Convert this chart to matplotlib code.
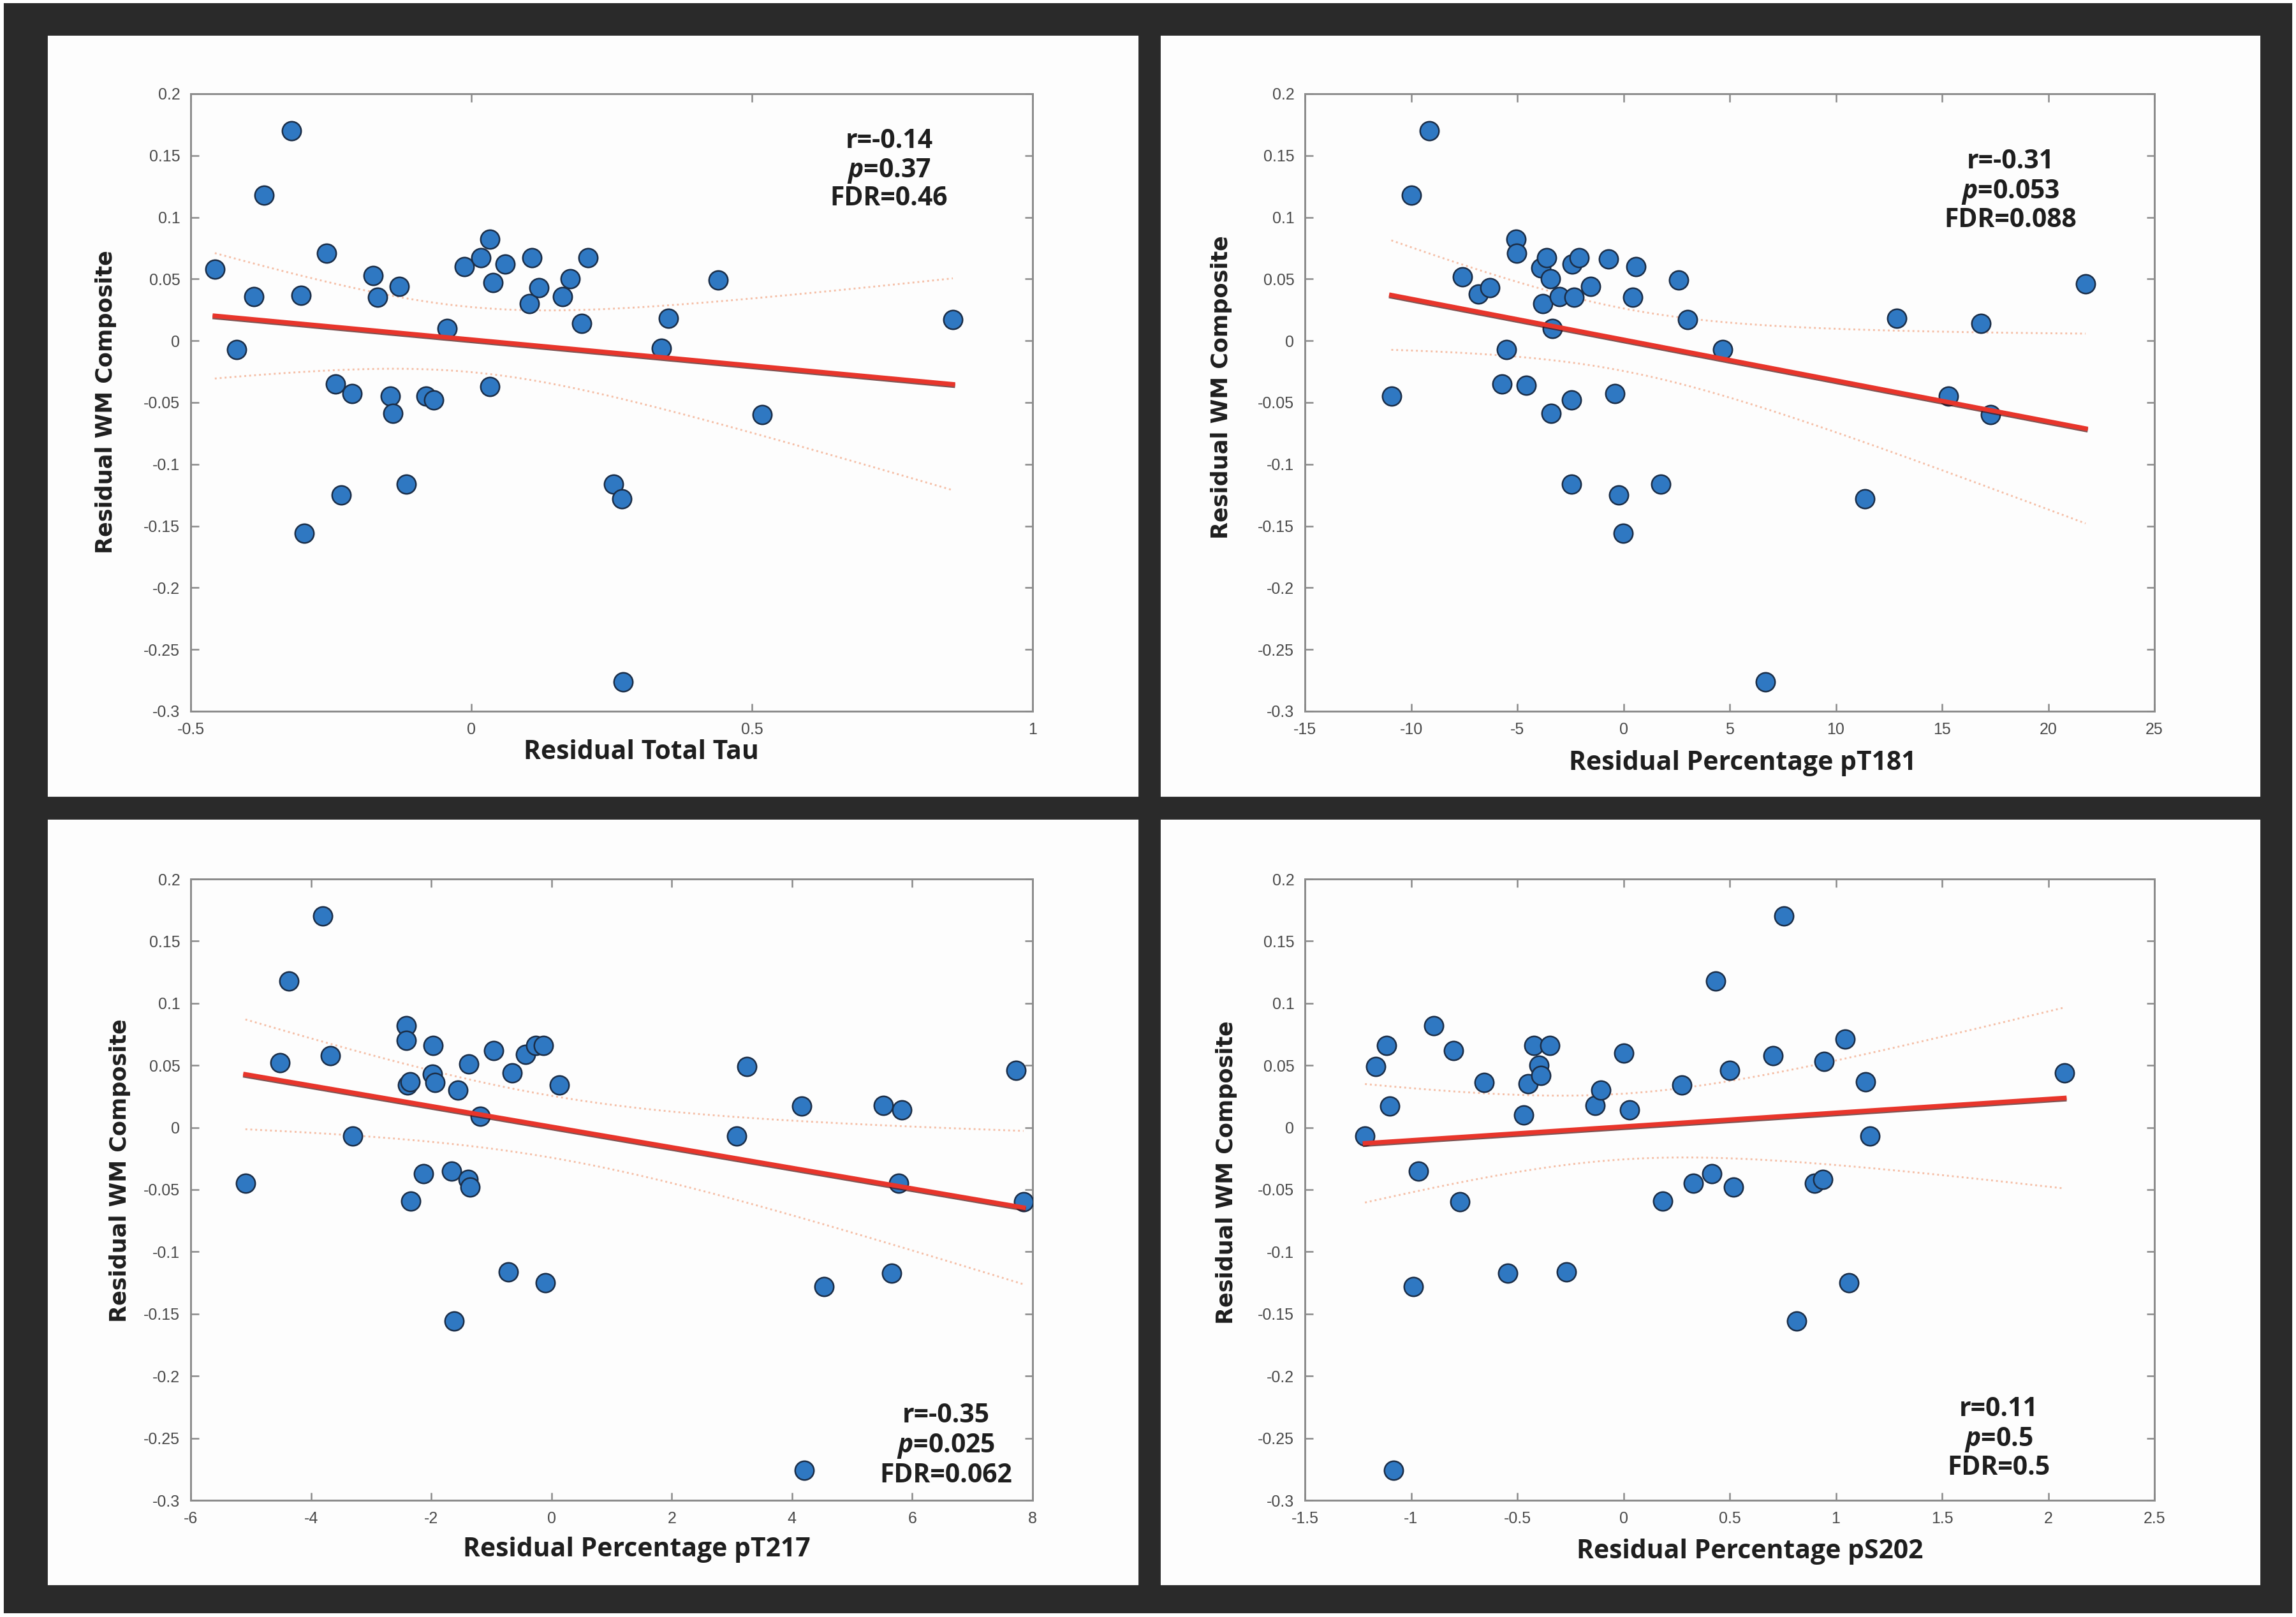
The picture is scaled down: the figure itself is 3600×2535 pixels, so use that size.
import matplotlib.pyplot as plt
import matplotlib.patheffects as pe
import numpy as np
from matplotlib.patches import Rectangle

plt.rcParams['mathtext.fontset'] = 'custom'
plt.rcParams['mathtext.it'] = 'Open Sans:italic:bold'

# residual values (y = residual WM composite)
tau_x = [-0.457, -0.321, -0.369, -0.418, -0.388, -0.303, -0.258, -0.242, -0.213, -0.232,
         -0.298, -0.175, -0.167, -0.128, -0.144, -0.140, -0.116, -0.081, -0.067, -0.043,
         -0.013, 0.017, 0.033, 0.039, 0.033, 0.060, 0.108, 0.103, 0.120, 0.163,
         0.176, 0.208, 0.197, 0.253, 0.268, 0.270, 0.339, 0.351, 0.440, 0.518, 0.858]
tau_y = [0.058, 0.170, 0.118, -0.007, 0.036, 0.037, 0.071, -0.035, -0.043, -0.125,
         -0.156, 0.053, 0.035, 0.044, -0.045, -0.059, -0.116, -0.045, -0.048, 0.010,
         0.060, 0.067, 0.082, 0.047, -0.037, 0.062, 0.067, 0.030, 0.043, 0.036,
         0.050, 0.067, 0.014, -0.116, -0.128, -0.276, -0.006, 0.018, 0.049, -0.060, 0.017]

pt181_x = [-9.14, -9.97, -10.93, -7.59, -6.83, -6.28, -5.52, -5.72, -5.07, -5.03,
           -4.59, -3.90, -3.62, -3.45, -3.79, -3.34, -3.41, -3.03, -2.41, -2.10,
           -2.34, -2.45, -2.45, -1.55, -0.72, -0.41, -0.24, -0.03, 0.59, 0.45,
           1.76, 2.59, 3.03, 4.66, 6.69, 11.38, 12.86, 15.31, 16.83, 17.28, 21.76]
pt181_y = [0.170, 0.118, -0.045, 0.052, 0.038, 0.043, -0.007, -0.035, 0.082, 0.071,
           -0.036, 0.059, 0.067, 0.050, 0.030, 0.010, -0.059, 0.036, 0.062, 0.067,
           0.035, -0.048, -0.116, 0.044, 0.066, -0.043, -0.125, -0.156, 0.060, 0.035,
           -0.116, 0.049, 0.017, -0.007, -0.276, -0.128, 0.018, -0.045, 0.014, -0.060, 0.046]

pt217_x = [-3.80, -4.37, -5.09, -4.52, -3.68, -3.31, -2.41, -2.41, -2.39, -2.35,
           -2.34, -2.13, -1.97, -1.98, -1.94, -1.66, -1.62, -1.56, -1.39, -1.35,
           -1.38, -1.19, -0.96, -0.72, -0.65, -0.43, -0.26, -0.13, -0.10, 0.13,
           3.08, 3.25, 4.16, 4.20, 4.53, 5.52, 5.66, 5.83, 5.77, 7.72, 7.85]
pt217_y = [0.170, 0.118, -0.045, 0.052, 0.058, -0.007, 0.082, 0.070, 0.034, 0.037,
           -0.059, -0.037, 0.066, 0.043, 0.036, -0.035, -0.156, 0.030, -0.042, -0.048,
           0.051, 0.009, 0.062, -0.116, 0.044, 0.059, 0.066, 0.066, -0.125, 0.034,
           -0.007, 0.049, 0.017, -0.276, -0.128, 0.018, -0.117, 0.014, -0.045, 0.046, -0.060]

ps202_x = [0.755, 0.434, -1.083, -1.217, -1.166, -1.117, -1.100, -0.966, -0.990, -0.893,
           -0.800, -0.769, -0.655, -0.545, -0.469, -0.448, -0.421, -0.397, -0.390, -0.348,
           -0.269, -0.134, -0.107, 0.000, 0.028, 0.186, 0.276, 0.328, 0.417, 0.500,
           0.517, 0.703, 0.814, 0.900, 0.938, 0.945, 1.045, 1.062, 1.141, 1.162, 2.076]
ps202_y = [0.170, 0.118, -0.276, -0.007, 0.049, 0.066, 0.017, -0.035, -0.128, 0.082,
           0.062, -0.060, 0.036, -0.117, 0.010, 0.035, 0.066, 0.050, 0.042, 0.066,
           -0.116, 0.018, 0.030, 0.060, 0.014, -0.059, 0.034, -0.045, -0.037, 0.046,
           -0.048, 0.058, -0.156, -0.045, -0.042, 0.053, 0.071, -0.125, 0.037, -0.007, 0.044]

x_labels = ['Residual Total Tau', 'Residual Percentage pT181',
            'Residual Percentage pT217', 'Residual Percentage pS202']
x_ticks = [[-0.5, 0, 0.5, 1], [-15, -10, -5, 0, 5, 10, 15, 20, 25],
           [-6, -4, -2, 0, 2, 4, 6, 8], [-1.5, -1, -0.5, 0, 0.5, 1, 1.5, 2, 2.5]]
y_ticks = [-0.3, -0.25, -0.2, -0.15, -0.1, -0.05, 0, 0.05, 0.1, 0.15, 0.2]
r_text = ['r=-0.14', 'r=-0.31', 'r=-0.35', 'r=0.11']
p_text = ['0.37', '0.053', '0.025', '0.5']
fdr_text = ['FDR=0.46', 'FDR=0.088', 'FDR=0.062', 'FDR=0.5']

# layout in pixels of the 3600x2535 image
W, H = 3600, 2535
panel_px = [(77, 58, 1783, 1247), (1822, 58, 3542, 1247),
            (77, 1287, 1783, 2483), (1822, 1287, 3542, 2483)]
axes_px = [(299, 147, 1619, 1115), (2046, 147, 3378, 1115),
           (299, 1378, 1619, 2352), (2046, 1378, 3378, 2352)]
xlabel_pos = [(0.535, -0.067), (0.515, -0.084), (0.530, -0.080), (0.524, -0.083)]
ylabel_pos = [(-0.101, 0.501), (-0.098, 0.525), (-0.084, 0.531), (-0.092, 0.528)]
stats_px = [(1394, 216, 262, 306), (3152, 249, 295, 340),
            (1483, 2215, 2261, 2308), (3134, 2204, 2251, 2297)]

T95 = 2.0227  # t(0.975, df=39)


def fig_rect(x0, y0, x1, y1):
    return [x0 / W, 1 - y1 / H, (x1 - x0) / W, (y1 - y0) / H]


def fmt(v):
    return f'{round(v, 2) + 0:g}'


fig = plt.figure(figsize=(12, 8.45), dpi=300, facecolor='white')
fig.add_artist(Rectangle((8 / W, 1 - 2527 / H), 3584 / W, 2520 / H,
                         transform=fig.transFigure, color='#2a2a2a', zorder=-20))
for box in panel_px:
    x, y, w, h = fig_rect(*box)
    fig.add_artist(Rectangle((x, y), w, h, transform=fig.transFigure,
                             color='#fdfdfd', zorder=-10))

data = [(tau_x, tau_y), (pt181_x, pt181_y), (pt217_x, pt217_y), (ps202_x, ps202_y)]

for i, (xs, ys) in enumerate(data):
    xs = np.array(xs)
    ys = np.array(ys)
    ax = fig.add_axes(fig_rect(*axes_px[i]))
    ax.set_facecolor('#fdfdfd')

    ax.scatter(xs, ys, s=50, c='#2f78c2', edgecolors='#1b2e48', linewidths=0.6, zorder=3)

    # least squares fit with 95% confidence band of the mean
    slope, icpt = np.polyfit(xs, ys, 1)
    n = len(xs)
    resid = ys - (slope * xs + icpt)
    s = np.sqrt(np.sum(resid ** 2) / (n - 2))
    grid = np.linspace(xs.min(), xs.max(), 200)
    fit = slope * grid + icpt
    half = T95 * s * np.sqrt(1 / n + (grid - xs.mean()) ** 2 / np.sum((xs - xs.mean()) ** 2))
    ax.plot(grid, fit + half, ls=':', color='#f3b092', lw=0.7, alpha=0.8, zorder=2)
    ax.plot(grid, fit - half, ls=':', color='#f3b092', lw=0.7, alpha=0.8, zorder=2)
    ax.plot(grid, fit, color='#e8352b', lw=1.7, zorder=4,
            path_effects=[pe.SimpleLineShadow(offset=(0, -0.5), shadow_color='#4a0e0e', alpha=0.7),
                          pe.Normal()])

    xt = x_ticks[i]
    ax.set_xlim(xt[0], xt[-1])
    ax.set_ylim(-0.3, 0.2)
    ax.set_xticks(xt)
    ax.set_xticklabels([fmt(v) for v in xt], family='Liberation Sans')
    ax.set_yticks(y_ticks)
    ax.set_yticklabels([fmt(v) for v in y_ticks], family='Liberation Sans')
    ax.tick_params(direction='in', length=3, width=0.6, color='#8a8a8a',
                   labelsize=6, labelcolor='#4a4a4a', top=True, right=True, pad=4)
    for sp in ax.spines.values():
        sp.set_color('#8a8a8a')
        sp.set_linewidth(0.7)

    ax.set_xlabel(x_labels[i], family='Open Sans', fontweight='bold', fontsize=9.8, color='#1e1e1e')
    ax.xaxis.label.set_va('center')
    ax.xaxis.set_label_coords(*xlabel_pos[i])
    ax.set_ylabel('Residual WM Composite', family='DejaVu Sans', fontweight='bold',
                  fontsize=8.4, color='#1e1e1e')
    ax.yaxis.label.set_va('center')
    ax.yaxis.set_label_coords(*ylabel_pos[i])

    cx, y1, y2, y3 = stats_px[i]
    tprops = dict(ha='center', va='center_baseline', family='Open Sans', fontweight='bold',
                  fontsize=9.8, color='#1e1e1e')
    fig.text(cx / W, 1 - y1 / H, r_text[i], **tprops)
    fig.text(cx / W, 1 - y2 / H, '$\\mathit{p}$=' + p_text[i], **tprops)
    fig.text(cx / W, 1 - y3 / H, fdr_text[i], **tprops)

fig.savefig('out.png', dpi=300, facecolor='white')
